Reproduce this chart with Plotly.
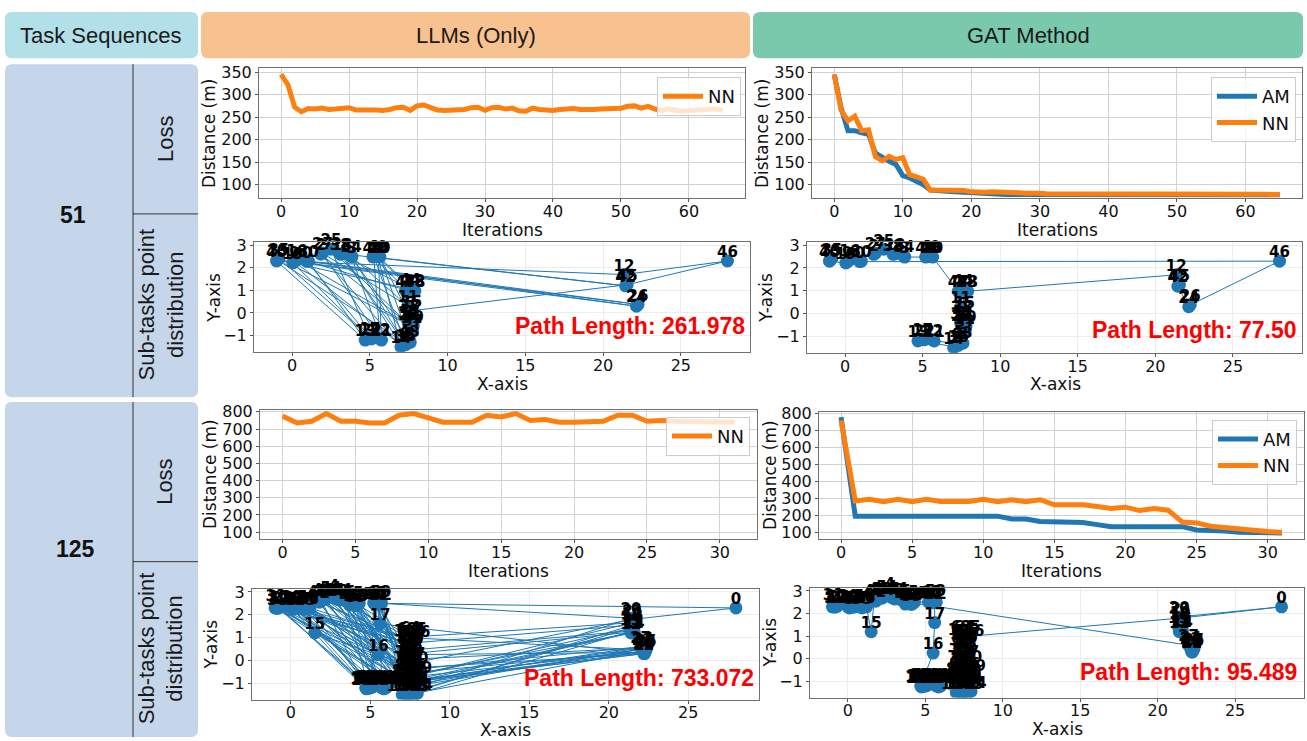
import sys
import plotly.graph_objects as go

W, H = 1307, 741

# ---------------- loss curves ----------------
ITER_51 = list(range(66))
LLM51_NN = [345, 322, 272, 262, 269, 268, 270, 267, 268, 270,
            271, 266, 265, 266, 266, 265, 267, 271, 272, 265,
            275, 277, 271, 266, 265, 266, 265, 267, 271, 272,
            265, 271, 272, 268, 270, 264, 263, 270, 267, 266,
            265, 267, 268, 269, 267, 266, 267, 268, 269, 268,
            270, 274, 275, 270, 274, 268, 265, 268, 265, 263,
            265, 266, 265, 267, 268, 265]
GAT51_AM = [345, 270, 220, 220, 215, 212, 170, 160, 152, 145,
            120, 115, 108, 100, 88, 88, 86, 85, 84, 83,
            82, 80, 79, 78, 78, 78, 78, 78, 78, 78,
            78, 78, 78, 77.5, 77.5, 77.5, 77.5, 77.5, 77.5, 77.5,
            77.5, 77.5, 77.5, 77.5, 77.5, 77.5, 77.5, 77.5, 77.5, 77.5,
            77.5, 77.5, 77.5, 77.5, 77.5, 77.5, 77.5, 77.5, 77.5, 77.5,
            77.5, 77.5, 77.5, 77.5, 77.5, 77.5]
GAT51_NN = [345, 265, 242, 252, 220, 222, 162, 153, 163, 156,
            160, 122, 117, 112, 88, 88, 88, 86, 86, 87,
            84, 83, 83, 84, 84, 82, 82, 82, 81, 82,
            81, 80, 80, 81, 81, 80, 80, 80, 80, 80,
            80, 80, 80, 80, 80.5, 80, 79.5, 79.5, 79.5, 79.5,
            79.5, 80, 79.5, 79, 79, 79, 79, 79, 79, 78.5,
            78.5, 78.5, 78.5, 78.5, 78, 78]

ITER_125 = list(range(32))
LLM125_NN = [775, 735, 745, 790, 745, 745, 735, 735, 780, 790,
             765, 740, 740, 740, 780, 770, 790, 750, 755, 740,
             740, 745, 745, 780, 780, 745, 750, 745, 745, 745,
             745, 740]
GAT125_AM = [780, 195, 195, 195, 195, 195, 195, 195, 195, 195,
             195, 195, 178, 178, 163, 163, 157, 157, 145, 133,
             133, 133, 133, 133, 133, 113, 112, 107, 100, 98,
             97, 96]
GAT125_NN = [760, 285, 295, 280, 295, 280, 295, 282, 282, 282,
             295, 280, 292, 280, 292, 262, 262, 262, 252, 240,
             248, 228, 240, 230, 160, 155, 135, 125, 117, 112,
             104, 100]

# ---------------- sub-task points (51) ----------------
X51 = [0.95, 7.05, 1.85, 3.85, 5.25, 7.6, 7.2, 7.4, 7.6, 0.15,
       5.55, 7.45, 21.35, 4.7, 7.0, 7.7, 0.3, 5.0, 3.2, 0.05,
       5.65, 5.75, 5.1, -0.95, 22.15, 2.5, 22.25, 1.95, 7.85, 7.5,
       1.05, 7.7, 5.65, 7.55, 3.8, -0.85, 7.3, 7.75, 3.1, 7.45,
       -1.0, 5.2, 21.45, 7.55, 7.6, 21.55, 28.0, 7.3, 7.9, 5.5,
       7.8]
Y51 = [2.28, -1.45, 2.6, 2.48, 2.52, 0.05, -1.3, 1.0, -1.3, 2.28,
       2.5, 0.3, 1.7, -1.2, -1.5, 0.1, 2.35, -1.1, 2.62, 2.22,
       2.48, -1.2, -1.15, 2.35, 0.3, 2.82, 0.38, 2.65, 1.02, -0.5,
       2.3, -0.6, -1.15, -0.1, 2.52, 2.42, -1.4, -0.75, 2.6, -0.4,
       2.3, 2.48, 1.2, -1.25, 1.05, 1.25, 2.3, 0.98, 0.98, 2.52,
       -0.55]
TOUR_LLM_51 = [46, 12, 40, 13, 30, 26, 9, 1, 18, 42, 41, 7, 0, 22, 35, 31, 2, 14, 49, 44,
               19, 17, 25, 29, 16, 24, 23, 6, 3, 11, 27, 32, 4, 36, 38, 48, 10, 21, 34, 8,
               20, 33, 39, 47, 43, 28, 37, 5, 50, 15, 45]
TOUR_GAT_51 = [46, 30, 0, 16, 9, 19, 40, 23, 35, 2, 27, 25, 18, 38, 34, 3, 41, 4, 49, 10, 20,
               47, 7, 11, 33, 39, 29, 36, 14, 1, 13, 17, 22, 32, 21, 6, 43, 8, 37, 31, 50, 5,
               15, 44, 28, 48, 12, 45, 42, 24, 26]

# ---------------- sub-task points (125) ----------------
X125 = [28.0, -1.0, -0.9, 0.1, 2.7, 1.9, 5.6, 1.0, 3.8, 5.3,
        8.0, 21.55, 21.4, 21.5, 21.6, 1.5, 5.5, 5.6, 21.45, 21.35,
        21.4, 21.5, 22.2, 22.1, 22.15, 22.35, 22.2, 22.0, 22.3, 22.25,
        -0.8, -0.95, 0.0, 0.2, 0.3, 0.9, 1.1, 1.2, -0.85, 0.05,
        1.7, 2.0, 2.2, 3.0, 3.2, 3.4, 3.7, 4.0, 4.2, 4.3,
        5.2, 5.5, 5.7, 5.65, 2.5, 3.9, 1.05, -0.7, 0.4, 4.1,
        5.4, 2.8, 1.8, 7.3, 7.5, 7.9, 7.4, 7.6, 7.35, 7.55,
        7.7, 7.3, 7.5, 7.65, 7.2, 7.4, 7.6, 7.8, 7.1, 7.3,
        7.5, 7.7, 7.2, 7.4, 7.6, 7.85, 7.0, 7.25, 7.5, 7.75,
        7.95, 7.05, 7.3, 7.55, 7.8, 8.0, 7.1, 7.35, 7.6, 7.85,
        7.0, 7.25, 7.5, 7.75, 7.95, 7.45, 7.8, 7.15, 7.65, 7.9,
        4.7, 4.8, 4.9, 5.0, 5.05, 5.15, 5.7, 5.8, 5.9, 4.75,
        5.25, 5.6, 6.0, 4.95, 5.85]
Y125 = [2.3, 2.3, 2.35, 2.25, 2.9, 2.65, 2.55, 2.3, 2.45, 2.5,
        -0.3, 1.3, 1.2, 1.55, 1.25, 1.2, 0.25, 1.6, 1.65, 1.4,
        1.85, 1.8, 0.3, 0.5, 0.55, 0.45, 0.35, 0.6, 0.4, 0.3,
        2.4, 2.45, 2.3, 2.35, 2.28, 2.25, 2.32, 2.3, 2.28, 2.4,
        2.62, 2.7, 2.68, 2.65, 2.7, 2.62, 2.42, 2.48, 2.45, 2.5,
        2.52, 2.48, 2.5, 2.6, 2.8, 2.55, 2.38, 2.32, 2.3, 2.4,
        2.55, 2.72, 2.55, 1.0, 1.02, 1.0, 0.75, 0.7, 0.5, 0.45,
        0.55, 0.25, 0.2, 0.3, 0.0, -0.05, 0.05, -0.1, -0.3, -0.35,
        -0.25, -0.4, -0.6, -0.55, -0.65, -0.6, -0.85, -0.8, -0.9, -0.85,
        -0.9, -1.1, -1.05, -1.15, -1.1, -1.15, -1.3, -1.3, -1.35, -1.3,
        -1.5, -1.5, -1.48, -1.5, -1.45, 0.9, 0.85, -1.2, -1.2, -0.7,
        -1.2, -1.15, -1.22, -1.1, -1.2, -1.15, -1.2, -1.15, -1.22, -1.25,
        -1.12, -1.1, -1.2, -1.18, -1.25]
TOUR_LLM_125 = [0, 52, 20, 97, 31, 112, 45, 88, 26, 71, 3, 119, 57, 101, 13, 66, 38, 94, 8, 115,
                29, 79, 41, 107, 1, 84, 60, 17, 22, 123, 35, 92, 48, 64, 18, 110, 5, 99, 43, 76,
                24, 121, 32, 86, 55, 103, 11, 69, 39, 16, 2, 114, 50, 90, 27, 81, 36, 105, 62, 117,
                14, 73, 46, 96, 7, 109, 28, 83, 58, 120, 34, 67, 44, 100, 19, 113, 53, 78, 9, 93,
                23, 124, 40, 70, 30, 106, 61, 85, 12, 118, 4, 75, 49, 102, 25, 63, 33, 111, 56, 89,
                74, 42, 122, 37, 80, 15, 98, 59, 68, 47, 116, 6, 91, 54, 104, 10, 87, 51, 72, 65,
                95, 82, 108, 77, 21]
TOUR_GAT_125 = [0, 21, 65, 106, 64, 63, 105, 66, 67, 70, 69, 68, 71, 72, 73, 76, 75, 74, 78, 79,
                80, 77, 10, 81, 85, 109, 84, 83, 82, 86, 87, 88, 89, 90, 95, 94, 93, 92, 91, 107,
                96, 97, 98, 108, 99, 104, 103, 102, 101, 100,
                122, 124, 118, 117, 116, 121, 120, 115, 114, 113, 123, 112, 111, 119, 110,
                16, 17,
                6, 53, 52, 51, 60, 9, 50, 49, 48, 59, 47, 55, 8, 46, 45, 44, 43, 61, 4, 54, 41, 5,
                62, 40, 15, 37, 36, 56, 7, 35, 58, 34, 33, 39, 3, 32, 57, 30, 2, 31, 1, 38, 42,
                27, 24, 23, 25, 28, 26, 29, 22, 12, 14, 11, 19, 13, 18, 20]

PATH_LENGTHS = ["261.978", "77.50", "733.072", "95.489"]
HEADERS = ["Task Sequences", "LLMs (Only)", "GAT Method"]
ROW_LABELS = ["51", "125"]
ROW_SUBLABELS = ["Loss", "Sub-tasks point<br>distribution"]

for name, tour, n in [("llm51", TOUR_LLM_51, 51), ("gat51", TOUR_GAT_51, 51),
                      ("llm125", TOUR_LLM_125, 125), ("gat125", TOUR_GAT_125, 125)]:
    if sorted(tour) != list(range(n)):
        print("tour problem", name, file=sys.stderr)

# ---------------- styling ----------------
BLUE = "#1f77b4"
ORANGE = "#ff7f0e"
TICKFONT = dict(family="DejaVu Sans", size=16, color="#111111")
LABFONT = dict(family="DejaVu Sans", size=17, color="#111111")
HDRFONT = dict(family="Liberation Sans, Arial", size=22, color="#1a1a1a")

# plot frames in pixels: x0, x1, y0(top), y1(bottom)
FR = {
    1: (259, 745, 61, 193),
    2: (812, 1302, 61, 193),
    3: (254, 750, 238, 349),
    4: (807, 1302, 238, 350),
    5: (260, 757, 408, 539),
    6: (819, 1304, 410, 539),
    7: (252, 759, 590, 702),
    8: (810, 1304, 589, 700),
}


def an(i, a):
    return a if i == 1 else f"{a}{i}"


layout = {}
fig = go.Figure()


def add_axes(i, xr, yr, xd, yd, gridcolor, standoff=-4):
    x0, x1, y0, y1 = FR[i]
    common = dict(showline=True, mirror=True, linecolor="#707070", linewidth=1,
                  showgrid=True, gridcolor=gridcolor, gridwidth=1, zeroline=False,
                  ticks="outside", ticklen=3, tickcolor="#555555", tickfont=TICKFONT,
                  tick0=0)
    layout[an(i, "xaxis")] = dict(domain=[x0 / W, x1 / W], range=xr, dtick=xd,
                                  anchor=an(i, "y"), ticklabelstandoff=standoff, **common)
    layout[an(i, "yaxis")] = dict(domain=[1 - y1 / H, 1 - y0 / H], range=yr, dtick=yd,
                                  anchor=an(i, "x"), **common)


# loss axes
add_axes(1, [-3.25, 68.25], [70, 359], 10, 50, "#d2d2d2")
add_axes(2, [-3.25, 68.25], [70, 359], 10, 50, "#d2d2d2")
add_axes(5, [-1.55, 32.55], [60, 811], 5, 100, "#d2d2d2")
add_axes(6, [-1.55, 32.55], [60, 811], 5, 100, "#d2d2d2")
# scatter axes
for i in (3, 4):
    add_axes(i, [-2.45, 29.45], [-1.72, 3.12], 5, 1, "#ececec")
for i in (7, 8):
    add_axes(i, [-2.45, 29.45], [-1.72, 3.12], 5, 1, "#ececec", standoff=-5)


def loss_trace(i, x, y, color, name, legend):
    fig.add_trace(go.Scatter(x=x, y=y, mode="lines", name=name,
                             line=dict(color=color, width=5),
                             xaxis=an(i, "x"), yaxis=an(i, "y"), legend=legend))


loss_trace(1, ITER_51, LLM51_NN, ORANGE, "NN", "legend")
loss_trace(2, ITER_51, GAT51_AM, BLUE, "AM", "legend2")
loss_trace(2, ITER_51, GAT51_NN, ORANGE, "NN", "legend2")
loss_trace(5, ITER_125, LLM125_NN, ORANGE, "NN", "legend3")
loss_trace(6, ITER_125, GAT125_AM, BLUE, "AM", "legend4")
loss_trace(6, ITER_125, GAT125_NN, ORANGE, "NN", "legend4")


def route(i, X, Y, tour):
    order = tour + [tour[0]]
    xa, ya = an(i, "x"), an(i, "y")
    fig.add_trace(go.Scatter(x=[X[k] for k in order], y=[Y[k] for k in order],
                             mode="lines", line=dict(color=BLUE, width=1),
                             showlegend=False, xaxis=xa, yaxis=ya))
    fig.add_trace(go.Scatter(x=X, y=Y, mode="markers",
                             marker=dict(color=BLUE, size=13),
                             showlegend=False, xaxis=xa, yaxis=ya))
    fig.add_trace(go.Scatter(x=X, y=Y, mode="text",
                             text=[f"<b>{k}</b>" for k in range(len(X))],
                             textposition="top center",
                             marker=dict(size=1),
                             textfont=dict(family="DejaVu Sans", size=15, color="black"),
                             cliponaxis=False, showlegend=False, xaxis=xa, yaxis=ya))


route(3, X51, Y51, TOUR_LLM_51)
route(4, X51, Y51, TOUR_GAT_51)
route(7, X125, Y125, TOUR_LLM_125)
route(8, X125, Y125, TOUR_GAT_125)


def leg(right, top):
    return dict(x=right / W, y=1 - top / H, xanchor="right", yanchor="top",
                bgcolor="rgba(255,255,255,0.8)", bordercolor="#cccccc", borderwidth=1,
                font=dict(family="DejaVu Sans", size=18, color="#111111"),
                tracegroupgap=0, itemwidth=40)


layout["legend"] = leg(741, 70)
layout["legend2"] = leg(1296, 70)
layout["legend3"] = leg(750, 415)
layout["legend4"] = leg(1297, 418)


# ---------------- decorations ----------------
def P(x, y):
    return f"{x / W:.5f},{1 - y / H:.5f}"


def rrect(x0, y0, x1, y1, r=7):
    return ("M " + P(x0 + r, y0) + " L " + P(x1 - r, y0) + " Q " + P(x1, y0) + " " + P(x1, y0 + r)
            + " L " + P(x1, y1 - r) + " Q " + P(x1, y1) + " " + P(x1 - r, y1)
            + " L " + P(x0 + r, y1) + " Q " + P(x0, y1) + " " + P(x0, y1 - r)
            + " L " + P(x0, y0 + r) + " Q " + P(x0, y0) + " " + P(x0 + r, y0) + " Z")


shapes = []
for (x0, y0, x1, y1, col) in [(5, 4, 198, 51, "#b3dfe9"), (201, 4, 750, 51, "#f8c190"),
                              (753, 4, 1303, 51, "#7bc9ad"), (5, 57, 198, 395, "#c5d6ea"),
                              (5, 400, 198, 740, "#c5d6ea")]:
    shapes.append(dict(type="path", xref="paper", yref="paper", path=rrect(x0, y0, x1, y1),
                       fillcolor=col, line=dict(width=0), layer="below"))
for (xa, ya, xb, yb) in [(133, 57, 133, 395), (133, 209, 198, 209),
                         (133, 400, 133, 740), (133, 562, 198, 562)]:
    shapes.append(dict(type="line", xref="paper", yref="paper", x0=xa / W, y0=1 - ya / H,
                       x1=xb / W, y1=1 - yb / H, line=dict(color="#333333", width=1)))

ann = []


def A(text, x, y, font, angle=0, xanchor="center", yanchor="middle"):
    ann.append(dict(text=text, x=x / W, y=1 - y / H, xref="paper", yref="paper",
                    showarrow=False, font=font, textangle=angle,
                    xanchor=xanchor, yanchor=yanchor))


A(HEADERS[0], 101, 28, HDRFONT)
A(HEADERS[1], 476, 28, HDRFONT)
A(HEADERS[2], 1028, 28, HDRFONT)
bold_row = dict(family="Liberation Sans, Arial", size=23, color="#111111")
A(f"<b>{ROW_LABELS[0]}</b>", 73, 210, bold_row)
A(f"<b>{ROW_LABELS[1]}</b>", 75, 549, bold_row)
A(ROW_SUBLABELS[0], 165, 133, HDRFONT, angle=-90)
A(ROW_SUBLABELS[1], 161, 301, HDRFONT, angle=-90)
A(ROW_SUBLABELS[0], 165, 481, HDRFONT, angle=-90)
A(ROW_SUBLABELS[1], 161, 650, HDRFONT, angle=-90)

# axis titles
for (x, y) in [(209, 127), (762, 127), (210, 473), (770, 474)]:
    A("Distance (m)", x, y, LABFONT, angle=-90)
for (x, y) in [(214, 294), (766, 294), (211, 646), (770, 644)]:
    A("Y-axis", x, y, LABFONT, angle=-90)
for (x, y) in [(502, 225), (1057, 225), (508, 571), (1061, 571)]:
    A("Iterations", x, y, LABFONT)
for (x, y) in [(502, 382), (1055, 382), (505, 733), (1057, 732)]:
    A("X-axis", x, y, LABFONT)

# path lengths
red = dict(family="Liberation Sans, Arial", size=23, color="#ff0000")
for txt, (x, y) in zip(PATH_LENGTHS, [(747, 323), (1298, 327), (756, 680), (1299, 674)]):
    A(f"<b>Path Length: {txt}</b>", x, y, red, xanchor="right")

fig.update_layout(width=W, height=H, margin=dict(l=0, r=0, t=0, b=0),
                  paper_bgcolor="white", plot_bgcolor="white",
                  shapes=shapes, annotations=ann, hovermode=False, **layout)

fig.write_html("out.html", config={"displayModeBar": False},
               post_script="document.body.style.margin='0';document.body.style.overflow='hidden';")
